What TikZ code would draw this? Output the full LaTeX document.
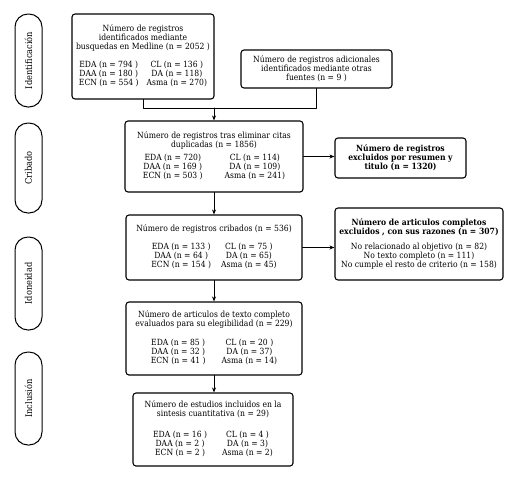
\documentclass[tikz,border=0pt]{standalone}
\usepackage{fontspec}
\setmainfont{DejaVu Serif Condensed}
\usetikzlibrary{arrows.meta}
\tikzset{
  every picture/.style={line join=round, line cap=round, >=Stealth},
  caja/.style={draw, line width=1.1pt, rounded corners=3pt, align=center, inner sep=1pt, font=\fontsize{8.5}{9.2}\selectfont},
  fase/.style={draw, line width=1pt, rounded corners=13pt, minimum width=27pt, minimum height=93pt, inner sep=0pt, font=\fontsize{9.2}{10}\selectfont},
  flecha/.style={line width=0.8pt, -{Stealth[length=5pt,width=4pt]}},
  linea/.style={line width=0.8pt},
}
\newcommand{\grupos}[7]{\begin{tabular}{@{}c@{\hspace{#1}}c@{}}#2&#5\\#3&#6\\#4&#7\end{tabular}}

\begin{document}
\begin{tikzpicture}[x=1pt,y=-1pt]
\useasboundingbox (0,0) rectangle (513,480);
\node[fase] (fid) at (28.5,60.5) {\rotatebox{90}{Identificación}};
\node[fase, minimum height=90pt] (fcr) at (28.5,168) {\rotatebox{90}{Cribado}};
\node[fase] (fido) at (28.5,283.5) {\rotatebox{90}{Idoneidad}};
\node[fase] (fin) at (28.5,398.5) {\rotatebox{90}{Inclusión}};

\node[caja, minimum width=142pt, minimum height=85pt] (medline) at (143,56.5) {Número de registros\\identificados mediante\\busquedas en Medline (n = 2052 )\\[8pt]
  \grupos{8pt}{EDA (n = 794 )}{DAA (n = 180 )}{ECN (n = 554 )}{CL (n = 136 )}{DA (n = 118)}{Asma (n = 270)}};
\node[caja, minimum width=151pt, minimum height=38pt] (otras) at (316.5,69) {Número de registros adicionales\\identificados mediante otras\\fuentes (n = 9 )};
\node[caja, minimum width=178pt, minimum height=71pt] (duplic) at (214,156.5) {Número de registros tras eliminar citas\\duplicadas (n = 1856)\\[4pt]
  \grupos{22pt}{EDA (n = 720)}{DAA (n = 169 )}{ECN (n = 503 )}{CL (n = 114)}{DA (n = 109)}{Asma (n = 241)}};
\node[caja, minimum width=131pt, minimum height=40pt, font=\fontsize{8.5}{9.2}\selectfont\bfseries] (resumen) at (400.5,158) {Número de registros\\excluidos por resumen y\\titulo (n = 1320)};
\node[caja, minimum width=176pt, minimum height=65pt] (cribados) at (214,247.5) {Número de registros cribados (n = 536)\\[9pt]
  \grupos{10pt}{EDA (n = 133 )}{DAA (n = 64 )}{ECN (n = 154 )}{CL (n = 75 )}{DA (n = 65)}{Asma (n = 45)}};
\node[caja, minimum width=168pt, minimum height=72pt] (razones) at (419,244) {\textbf{Número de articulos completos}\\\textbf{excluidos , con sus razones (n = 307)}\\[5pt]
  No relacionado al objetivo (n = 82)\\No texto completo (n = 111)\\No cumple el resto de criterio (n = 158)};
\node[caja, minimum width=176pt, minimum height=73pt] (texto) at (214,338.5) {Número de articulos de texto completo\\evaluados para su elegibilidad (n = 229)\\[9pt]
  \grupos{16pt}{EDA (n = 85 )}{DAA (n = 32 )}{ECN (n = 41 )}{CL (n = 20 )}{DA (n = 37)}{Asma (n = 14)}};
\node[caja, minimum width=160pt, minimum height=73pt] (sintesis) at (213,429.5) {Número de estudios incluidos en la\\sintesis cuantitativa (n = 29)\\[12pt]
  \grupos{15pt}{EDA (n = 16 )}{DAA (n = 2 )}{ECN (n = 2 )}{CL (n = 4 )}{DA (n = 3)}{Asma (n = 2)}};

\coordinate (union) at (214,108);
\draw[linea] (medline.south) |- (union);
\draw[linea] (otras.south) |- (union);
\draw[flecha] (union) -- (duplic.north);
\draw[flecha] (duplic.east) -- (resumen.west |- duplic.east);
\draw[flecha] (duplic.south) -- (cribados.north);
\draw[flecha] (cribados.east) -- (razones.west |- cribados.east);
\draw[flecha] (cribados.south) -- (texto.north);
\draw[flecha] (texto.south) -- (texto.south |- sintesis.north);
\end{tikzpicture}
\end{document}
